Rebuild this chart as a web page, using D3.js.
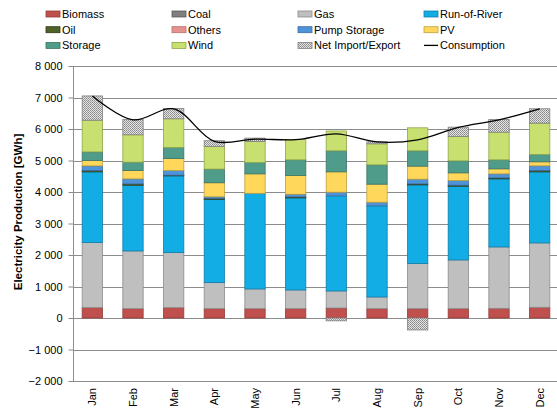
<!DOCTYPE html>
<html><head><meta charset="utf-8">
<script src="https://cdn.jsdelivr.net/npm/d3@7"></script>
<style>body{margin:0;background:#fff} svg{display:block;font-family:"Liberation Sans",Arial,sans-serif}</style>
</head><body><svg id="c" width="557" height="414"></svg>
<script>
const months = ["Jan","Feb","Mar","Apr","May","Jun","Jul","Aug","Sep","Oct","Nov","Dec"];
const biomass     = [330, 297, 328, 297, 297, 297, 318, 297, 297, 297, 307, 339];
const coal        = [0, 0, 0, 0, 0, 0, 0, 0, 0, 0, 0, 0];
const gas         = [2064, 1832, 1748, 826, 625, 593, 540, 370, 1430, 1546, 1949, 2044];
const runOfRiver  = [2246, 2087, 2437, 2645, 3036, 2924, 3019, 2892, 2500, 2341, 2161, 2257];
const oil         = [40, 42, 21, 30, 0, 30, 0, 0, 31, 32, 32, 42];
const others      = [0, 0, 0, 0, 0, 0, 0, 0, 0, 0, 0, 0];
const pumpStorage = [149, 159, 148, 50, 0, 86, 117, 117, 149, 148, 127, 149];
const pv          = [169, 265, 382, 445, 618, 593, 646, 572, 413, 244, 159, 127];
const storage     = [275, 265, 349, 435, 360, 498, 667, 614, 487, 381, 286, 233];
const wind        = [1007, 869, 911, 720, 668, 646, 630, 668, 731, 774, 879, 995];
const netImport   = [770, 487, 329, 180, 106, 0, -90, 63, -380, 296, 403, 456];
const consumption = [7050, 6290, 6640, 5610, 5680, 5660, 5847, 5590, 5658, 6050, 6290, 6640];
const yTicks = [-2000, -1000, 0, 1000, 2000, 3000, 4000, 5000, 6000, 7000, 8000];

const seriesDefs = [
  {key:"Biomass", values:biomass, fill:"#c0504d", stroke:"#943c3a"},
  {key:"Coal", values:coal, fill:"#7f7f7f", stroke:"#595959"},
  {key:"Gas", values:gas, fill:"#bfbfbf", stroke:"#8c8c8c"},
  {key:"Run-of-River", values:runOfRiver, fill:"#13ade5", stroke:"#0f7eaa"},
  {key:"Oil", values:oil, fill:"#4f6228", stroke:"#2f3b18"},
  {key:"Others", values:others, fill:"#e6938f", stroke:"#b86e6b"},
  {key:"Pump Storage", values:pumpStorage, fill:"#4f94d8", stroke:"#3a6ea2"},
  {key:"PV", values:pv, fill:"#ffd75a", stroke:"#bfa143"},
  {key:"Storage", values:storage, fill:"#4f9c8b", stroke:"#3b7468"},
  {key:"Wind", values:wind, fill:"#c8e070", stroke:"#8fa64a"},
  {key:"Net Import/Export", values:netImport, fill:"url(#hatch)", stroke:"#808080"}
];

const svg = d3.select("#c");
const defs = svg.append("defs");
const pat = defs.append("pattern").attr("id","hatch").attr("patternUnits","userSpaceOnUse")
  .attr("width",2).attr("height",2);
pat.append("rect").attr("width",2).attr("height",2).attr("fill","#e4e4e4");
pat.append("rect").attr("x",0).attr("y",0).attr("width",1).attr("height",1).attr("fill","#8a8a8a");
pat.append("rect").attr("x",1).attr("y",1).attr("width",1).attr("height",1).attr("fill","#9a9a9a");

const x = d3.scaleBand().domain(months).range([72, 560]).paddingInner(0.5).paddingOuter(0.25);
const y = d3.scaleLinear().domain([-2000, 8000]).range([381, 66]);

// gridlines
svg.append("g").selectAll("line").data(yTicks).join("line")
  .attr("x1",73).attr("x2",557)
  .attr("y1",d=>Math.round(y(d))+0.5).attr("y2",d=>Math.round(y(d))+0.5)
  .attr("stroke","#8c8c8c").attr("stroke-width",1);

// stacked data
const table = months.map((m,i)=>{
  const row = {month:m};
  seriesDefs.forEach(s=>row[s.key]=s.values[i]);
  return row;
});
const stack = d3.stack().keys(seriesDefs.map(s=>s.key)).offset(d3.stackOffsetDiverging);
const stacked = stack(table);

const gBars = svg.append("g");
stacked.forEach((layer, li)=>{
  const def = seriesDefs[li];
  gBars.append("g").selectAll("rect").data(layer.filter(d=>d[1]!==d[0])).join("rect")
    .attr("x", d=>x(d.data.month))
    .attr("width", x.bandwidth())
    .attr("y", d=>y(Math.max(d[0],d[1])))
    .attr("height", d=>Math.abs(y(d[0])-y(d[1])))
    .attr("fill", def.fill)
    .attr("stroke", def.stroke)
    .attr("stroke-width", 0.8);
});

// y axis
const yAxis = d3.axisLeft(y).tickValues(yTicks).tickSize(5).tickPadding(6)
  .tickFormat(d=>d3.format(",")(d).replace(/,/g," "));
const gy = svg.append("g").attr("transform","translate(73.5,0)").call(yAxis);
gy.select(".domain").attr("stroke","#8c8c8c").attr("d","M0,66V381");
gy.selectAll(".tick line").attr("stroke","#8c8c8c");
gy.selectAll(".tick text").attr("font-size","11px").attr("fill","#000").attr("font-family","Liberation Sans, Arial, sans-serif");

// x labels
svg.append("g").selectAll("text").data(months).join("text")
  .attr("transform", d=>`translate(${x(d)+x.bandwidth()/2+4},388) rotate(-90)`)
  .attr("text-anchor","end")
  .attr("font-size","11px").attr("fill","#000")
  .text(d=>d);

// consumption line
const line = d3.line()
  .x((d,i)=>x(months[i])+x.bandwidth()/2)
  .y(d=>y(d))
  .curve(d3.curveCatmullRom.alpha(0.5));
svg.append("path").datum(consumption).attr("d",line)
  .attr("fill","none").attr("stroke","#000").attr("stroke-width",1.3);

// y label
svg.append("text")
  .attr("transform","translate(22,212) rotate(-90)")
  .attr("text-anchor","middle")
  .attr("font-size","11.5px").attr("font-weight","bold").attr("fill","#000")
  .text("Electricity Production [GWh]");

// legend
const legendItems = seriesDefs.map(s=>({key:s.key, fill:s.fill, stroke:s.stroke, type:"rect"}))
  .concat([{key:"Consumption", type:"line"}]);
const lg = svg.append("g");
legendItems.forEach((it,i)=>{
  const col = i%4, row = Math.floor(i/4);
  const lx = 46 + col*126, ly = 14 + row*15.7;
  if(it.type==="rect"){
    lg.append("rect").attr("x",lx).attr("y",ly-3).attr("width",14).attr("height",6)
      .attr("fill",it.fill).attr("stroke",it.stroke).attr("stroke-width",0.8);
  } else {
    lg.append("line").attr("x1",lx).attr("x2",lx+14).attr("y1",ly).attr("y2",ly)
      .attr("stroke","#000").attr("stroke-width",1.3);
  }
  lg.append("text").attr("x",lx+16).attr("y",ly+4).attr("font-size","11px").attr("fill","#000").text(it.key);
});
</script></body></html>
